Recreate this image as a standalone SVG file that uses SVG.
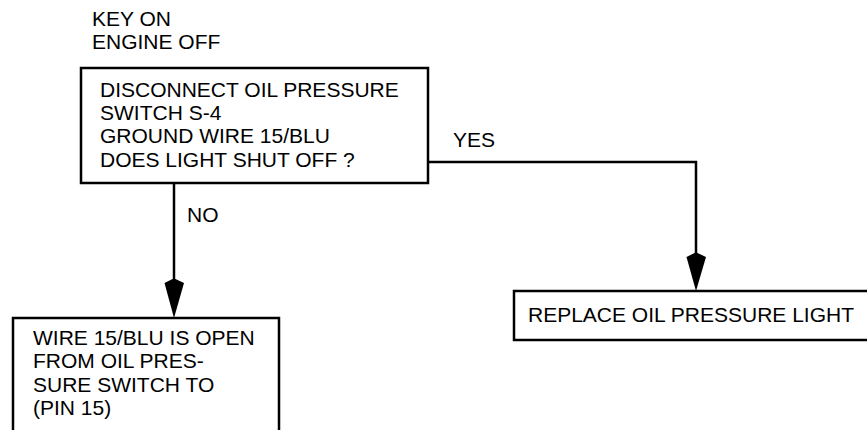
<svg xmlns="http://www.w3.org/2000/svg" width="867" height="430" viewBox="0 0 867 430">
<style>
text{font-family:"Liberation Sans",Arial,sans-serif;font-size:21px;fill:#000}
.box{fill:#fff;stroke:#000;stroke-width:2.5}
.line{fill:none;stroke:#000;stroke-width:2.5}
.head{fill:#000;stroke:none}
</style>
<rect width="867" height="430" fill="#fff"/>
<g id="precondition">
<text x="92" y="26">KEY ON</text>
<text x="92" y="49">ENGINE OFF</text>
</g>
<g id="decision">
<rect class="box" x="81" y="68" width="347" height="115"/>
<text x="100" y="97">DISCONNECT OIL PRESSURE</text>
<text x="100" y="120">SWITCH S-4</text>
<text x="100" y="143">GROUND WIRE 15/BLU</text>
<text x="100" y="167">DOES LIGHT SHUT OFF ?</text>
</g>
<g id="no-result">
<rect class="box" x="13" y="318" width="266" height="130"/>
<text x="33" y="345">WIRE 15/BLU IS OPEN</text>
<text x="33" y="368">FROM OIL PRES-</text>
<text x="33" y="392">SURE SWITCH TO</text>
<text x="33" y="415">(PIN 15)</text>
</g>
<g id="yes-result">
<rect class="box" x="514" y="291" width="360" height="49"/>
<text x="528" y="322">REPLACE OIL PRESSURE LIGHT</text>
</g>
<g id="connectors">
<path class="line" d="M174 183 V300"/>
<polygon class="head" points="174,318 164.5,283 172.5,279 175.5,279 184,283"/>
<text x="187" y="222">NO</text>
<path class="line" d="M428 162 H696 V275"/>
<polygon class="head" points="696,291 686.5,257 694.5,253 697.5,253 706,257"/>
<text x="453" y="147">YES</text>
</g>
</svg>
